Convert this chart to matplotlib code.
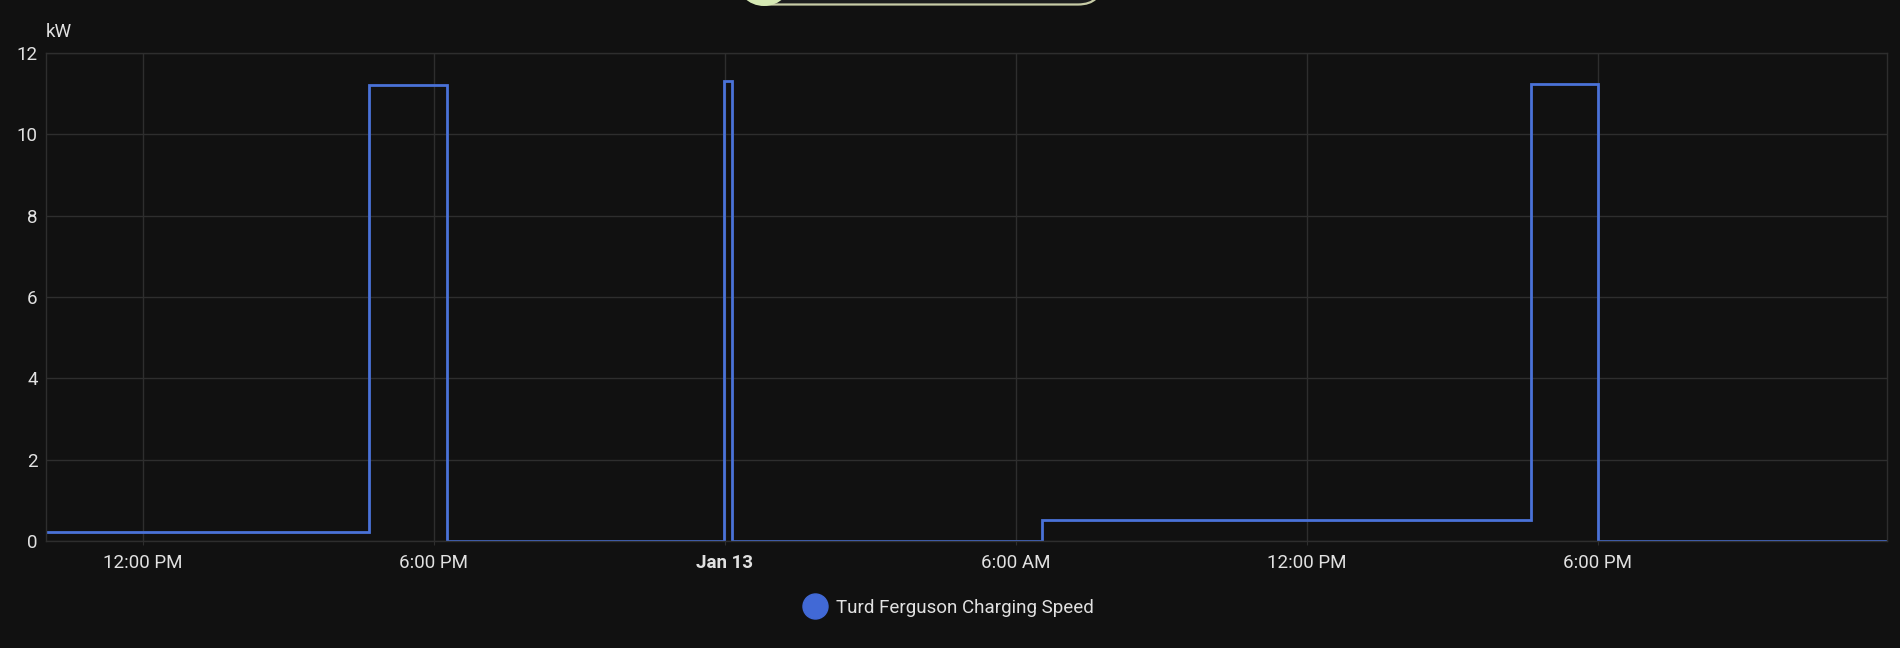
import matplotlib
matplotlib.use("Agg")
import matplotlib.pyplot as plt
import pandas as pd
from matplotlib.patches import FancyBboxPatch, Circle
from matplotlib.lines import Line2D
from matplotlib.transforms import IdentityTransform

# ---------------- data ----------------
series_name = "Turd Ferguson Charging Speed"
unit = "kW"
times = ["2025-01-12 10:00", "2025-01-12 16:40", "2025-01-12 18:16",
         "2025-01-12 23:59", "2025-01-13 00:09", "2025-01-13 06:32",
         "2025-01-13 16:38", "2025-01-13 18:01", "2025-01-13 23:58"]
values = [0.23, 11.22, 0.0, 11.32, 0.0, 0.52, 11.23, 0.0, 0.0]
tick_times = ["2025-01-12 12:00", "2025-01-12 18:00", "2025-01-13 00:00",
              "2025-01-13 06:00", "2025-01-13 12:00", "2025-01-13 18:00"]
tick_labels = ["12:00 PM", "6:00 PM", "Jan 13", "6:00 AM", "12:00 PM", "6:00 PM"]
y_ticks = [0, 2, 4, 6, 8, 10, 12]
x_start = "2025-01-12 10:00"
x_end = "2025-01-13 23:58"

# ---------------- style ----------------
BG = "#111111"
GRID = "#2e2e2e"
TEXT = "#e1e1e1"
LINE = "#4a72d8"
DOT = "#4169d6"
FONT = ["Roboto", "DejaVu Sans"]
plt.rcParams["font.family"] = FONT

W, H, DPI = 1900, 648, 100
fig = plt.figure(figsize=(W / DPI, H / DPI), dpi=DPI, facecolor=BG)
L, R, T, B = 46, 1887, 53, 541
ax = fig.add_axes([L / W, 1 - B / H, (R - L) / W, (B - T) / H], facecolor=BG)

t = pd.to_datetime(times)
ax.step(t, values, where="post", color=LINE, lw=2.0, solid_joinstyle="miter")

ax.set_xlim(pd.Timestamp(x_start), pd.Timestamp(x_end))
ax.set_ylim(0, 12)
ax.set_yticks(y_ticks)
ax.set_xticks(pd.to_datetime(tick_times))
ax.set_xticklabels(tick_labels)
for lbl in ax.get_xticklabels():
    if lbl.get_text().startswith("Jan"):
        lbl.set_fontweight("bold")

ax.grid(True, color=GRID, lw=1.0)
ax.set_axisbelow(True)
for s in ax.spines.values():
    s.set_color(GRID)
    s.set_linewidth(1.0)
ax.tick_params(axis="y", length=0, pad=6, colors=TEXT, labelsize=13.5)
ax.tick_params(axis="x", length=3, color=GRID, pad=6, colors=TEXT, labelsize=13.5)

fig.text(L / W, 1 - 32 / H, unit, color=TEXT, fontsize=13.5, ha="left", va="center")

# legend
handle = Line2D([], [], marker="o", ls="none", markersize=18, markerfacecolor=DOT,
                markeredgecolor=DOT)
fig.legend([handle], [series_name], loc="center", bbox_to_anchor=(948 / W, 1 - 608 / H),
           frameon=False, fontsize=13.5, handlelength=1.4, handletextpad=0.4,
           labelcolor=TEXT)

# partially visible toggle chip at top edge
chip = FancyBboxPatch((745, H - 4.5), 357, 60, boxstyle="round,pad=0,rounding_size=24",
                      transform=IdentityTransform(), facecolor="#1c1d1e",
                      edgecolor="#c7cca6", lw=1.6, clip_on=False)
fig.add_artist(chip)
knob = Circle((764, H + 22.5), 28.5, transform=IdentityTransform(), facecolor="#d6e9b4",
              edgecolor="none", clip_on=False)
fig.add_artist(knob)

fig.savefig("out.png", dpi=DPI, facecolor=BG)
